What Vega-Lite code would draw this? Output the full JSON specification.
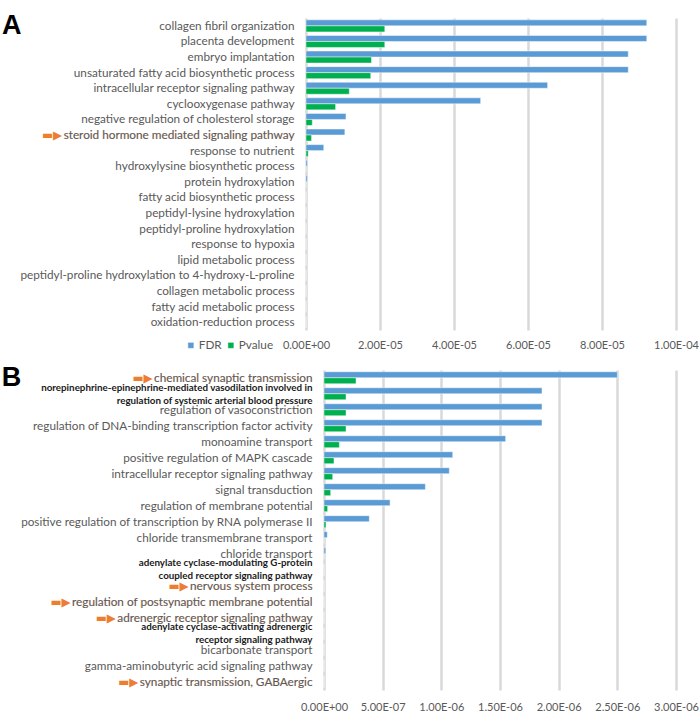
{
  "$schema": "https://vega.github.io/schema/vega-lite/v6.json",
  "padding": {"left": 1, "right": 0, "top": 11, "bottom": 0},
  "columns": 1,
  "align": "none",
  "spacing": 12,
  "config": {
    "font": "Lato",
    "view": {"stroke": null},
    "axis": {"labelFont": "Lato", "labelFontSize": 11.75, "labelColor": "#595959", "domain": false, "ticks": false, "tickSize": 0, "labelLimit": 600},
    "legend": {"symbolType": "square", "labelFont": "Lato", "labelFontSize": 11.75, "labelColor": "#595959", "symbolSize": 36, "symbolStrokeWidth": 0, "labelOffset": 2, "gridAlign": "none", "padding": 0},
    "title": {"font": "Liberation Sans", "fontSize": 27, "fontWeight": "bold", "color": "#000000", "anchor": "start", "frame": "bounds", "offset": 0, "dx": -18, "dy": 25.5},
    "bar": {"stroke": "#FFFFFF", "strokeWidth": 1, "strokeOpacity": 0.45}
  },
  "datasets": {
    "a": [
      {"term": "collagen fibril organization", "series": "FDR", "value": 9.21e-5},
      {"term": "collagen fibril organization", "series": "Pvalue", "value": 2.13e-5},
      {"term": "placenta development", "series": "FDR", "value": 9.21e-5},
      {"term": "placenta development", "series": "Pvalue", "value": 2.13e-5},
      {"term": "embryo implantation", "series": "FDR", "value": 8.71e-5},
      {"term": "embryo implantation", "series": "Pvalue", "value": 1.77e-5},
      {"term": "unsaturated fatty acid biosynthetic process", "series": "FDR", "value": 8.71e-5},
      {"term": "unsaturated fatty acid biosynthetic process", "series": "Pvalue", "value": 1.75e-5},
      {"term": "intracellular receptor signaling pathway", "series": "FDR", "value": 6.53e-5},
      {"term": "intracellular receptor signaling pathway", "series": "Pvalue", "value": 1.17e-5},
      {"term": "cyclooxygenase pathway", "series": "FDR", "value": 4.72e-5},
      {"term": "cyclooxygenase pathway", "series": "Pvalue", "value": 8.0e-6},
      {"term": "negative regulation of cholesterol storage", "series": "FDR", "value": 1.08e-5},
      {"term": "negative regulation of cholesterol storage", "series": "Pvalue", "value": 1.7e-6},
      {"term": "steroid hormone mediated signaling pathway", "series": "FDR", "value": 1.05e-5},
      {"term": "steroid hormone mediated signaling pathway", "series": "Pvalue", "value": 1.5e-6},
      {"term": "response to nutrient", "series": "FDR", "value": 4.8e-6},
      {"term": "response to nutrient", "series": "Pvalue", "value": 6e-7},
      {"term": "hydroxylysine biosynthetic process", "series": "FDR", "value": 4e-7},
      {"term": "hydroxylysine biosynthetic process", "series": "Pvalue", "value": 2e-8},
      {"term": "protein hydroxylation", "series": "FDR", "value": 4e-7},
      {"term": "protein hydroxylation", "series": "Pvalue", "value": 2e-8},
      {"term": "fatty acid biosynthetic process", "series": "FDR", "value": 0},
      {"term": "fatty acid biosynthetic process", "series": "Pvalue", "value": 0},
      {"term": "peptidyl-lysine hydroxylation", "series": "FDR", "value": 0},
      {"term": "peptidyl-lysine hydroxylation", "series": "Pvalue", "value": 0},
      {"term": "peptidyl-proline hydroxylation", "series": "FDR", "value": 0},
      {"term": "peptidyl-proline hydroxylation", "series": "Pvalue", "value": 0},
      {"term": "response to hypoxia", "series": "FDR", "value": 0},
      {"term": "response to hypoxia", "series": "Pvalue", "value": 0},
      {"term": "lipid metabolic process", "series": "FDR", "value": 0},
      {"term": "lipid metabolic process", "series": "Pvalue", "value": 0},
      {"term": "peptidyl-proline hydroxylation to 4-hydroxy-L-proline", "series": "FDR", "value": 0},
      {"term": "peptidyl-proline hydroxylation to 4-hydroxy-L-proline", "series": "Pvalue", "value": 0},
      {"term": "collagen metabolic process", "series": "FDR", "value": 0},
      {"term": "collagen metabolic process", "series": "Pvalue", "value": 0},
      {"term": "fatty acid metabolic process", "series": "FDR", "value": 0},
      {"term": "fatty acid metabolic process", "series": "Pvalue", "value": 0},
      {"term": "oxidation-reduction process", "series": "FDR", "value": 0},
      {"term": "oxidation-reduction process", "series": "Pvalue", "value": 0}
    ],
    "b": [
      {"term": "chemical synaptic transmission", "series": "FDR", "value": 2.5e-6},
      {"term": "chemical synaptic transmission", "series": "Pvalue", "value": 2.73e-7},
      {"term": "norepinephrine-epinephrine-mediated vasodilation involved in|regulation of systemic arterial blood pressure", "series": "FDR", "value": 1.858e-6},
      {"term": "norepinephrine-epinephrine-mediated vasodilation involved in|regulation of systemic arterial blood pressure", "series": "Pvalue", "value": 1.88e-7},
      {"term": "regulation of vasoconstriction", "series": "FDR", "value": 1.858e-6},
      {"term": "regulation of vasoconstriction", "series": "Pvalue", "value": 1.88e-7},
      {"term": "regulation of DNA-binding transcription factor activity", "series": "FDR", "value": 1.858e-6},
      {"term": "regulation of DNA-binding transcription factor activity", "series": "Pvalue", "value": 1.88e-7},
      {"term": "monoamine transport", "series": "FDR", "value": 1.548e-6},
      {"term": "monoamine transport", "series": "Pvalue", "value": 1.31e-7},
      {"term": "positive regulation of MAPK cascade", "series": "FDR", "value": 1.097e-6},
      {"term": "positive regulation of MAPK cascade", "series": "Pvalue", "value": 8.5e-8},
      {"term": "intracellular receptor signaling pathway", "series": "FDR", "value": 1.068e-6},
      {"term": "intracellular receptor signaling pathway", "series": "Pvalue", "value": 7.4e-8},
      {"term": "signal transduction", "series": "FDR", "value": 8.64e-7},
      {"term": "signal transduction", "series": "Pvalue", "value": 5.7e-8},
      {"term": "regulation of membrane potential", "series": "FDR", "value": 5.63e-7},
      {"term": "regulation of membrane potential", "series": "Pvalue", "value": 3.1e-8},
      {"term": "positive regulation of transcription by RNA polymerase II", "series": "FDR", "value": 3.86e-7},
      {"term": "positive regulation of transcription by RNA polymerase II", "series": "Pvalue", "value": 1.7e-8},
      {"term": "chloride transmembrane transport", "series": "FDR", "value": 2.8e-8},
      {"term": "chloride transmembrane transport", "series": "Pvalue", "value": 1e-9},
      {"term": "chloride transport", "series": "FDR", "value": 1.5e-8},
      {"term": "chloride transport", "series": "Pvalue", "value": 5e-10},
      {"term": "adenylate cyclase-modulating G-protein|coupled receptor signaling pathway", "series": "FDR", "value": 0},
      {"term": "adenylate cyclase-modulating G-protein|coupled receptor signaling pathway", "series": "Pvalue", "value": 0},
      {"term": "nervous system process", "series": "FDR", "value": 0},
      {"term": "nervous system process", "series": "Pvalue", "value": 0},
      {"term": "regulation of postsynaptic membrane potential", "series": "FDR", "value": 0},
      {"term": "regulation of postsynaptic membrane potential", "series": "Pvalue", "value": 0},
      {"term": "adrenergic receptor signaling pathway", "series": "FDR", "value": 0},
      {"term": "adrenergic receptor signaling pathway", "series": "Pvalue", "value": 0},
      {"term": "adenylate cyclase-activating adrenergic|receptor signaling pathway", "series": "FDR", "value": 0},
      {"term": "adenylate cyclase-activating adrenergic|receptor signaling pathway", "series": "Pvalue", "value": 0},
      {"term": "bicarbonate transport", "series": "FDR", "value": 0},
      {"term": "bicarbonate transport", "series": "Pvalue", "value": 0},
      {"term": "gamma-aminobutyric acid signaling pathway", "series": "FDR", "value": 0},
      {"term": "gamma-aminobutyric acid signaling pathway", "series": "Pvalue", "value": 0},
      {"term": "synaptic transmission, GABAergic", "series": "FDR", "value": 0},
      {"term": "synaptic transmission, GABAergic", "series": "Pvalue", "value": 0}
    ]
  },
  "concat": [
    {
      "title": {"text": "A"},
      "width": 370,
      "height": 312,
      "data": {"name": "a"},
      "resolve": {"axis": {"y": "independent"}},
      "layer": [
        {
          "mark": {"type": "bar", "opacity": 0},
          "encoding": {
            "y": {"field": "term", "type": "nominal", "sort": null, "scale": {"paddingInner": 0.23, "paddingOuter": 0.12},
              "axis": {"orient": "left", "title": null, "labelPadding": 12, "labelColor": "#ED7D31", "labelFont": "Lato, DejaVu Sans",
                "labelExpr": "indexof(['steroid hormone mediated signaling pathway'], datum.label) >= 0 ? '▬▶\u2009' + datum.label : ''"}}
          }
        },
        {
          "mark": {"type": "bar", "opacity": 0},
          "encoding": {
            "y": {"field": "term", "type": "nominal", "sort": null,
              "axis": {"orient": "left", "title": null, "labelPadding": 12, "labelColor": "#FFFFFF",
                "encoding": {"labels": {"update": {"stroke": {"value": "#FFFFFF"}, "strokeWidth": {"value": 2.5}}}},
                "labelExpr": "indexof(['steroid hormone mediated signaling pathway'], datum.label) >= 0 ? datum.label : ''"}}
          }
        },
        {
          "mark": "bar",
          "encoding": {
            "y": {"field": "term", "type": "nominal", "sort": null,
              "axis": {"orient": "left", "title": null, "labelPadding": 12, "labelExpr": "split(datum.label, '|')"}},
            "yOffset": {"field": "series", "type": "nominal", "sort": ["FDR", "Pvalue"], "scale": {"paddingInner": 0, "paddingOuter": 0}},
            "x": {"field": "value", "type": "quantitative", "scale": {"domain": [0, 0.0001], "nice": false},
              "axis": {"title": null, "values": [0, 0.00002, 0.00004, 0.00006, 0.00008, 0.0001], "grid": true, "gridColor": "#D9D9D9", "gridWidth": 2.5, "labelPadding": 9.5, "labelFontSize": 11, "labelOverlap": false, "labelFlush": false,
                "labelExpr": "replace(replace(format(datum.value, '.2e'), 'e+', 'E+0'), 'e-', 'E-0')"}},
            "color": {"field": "series", "type": "nominal", "scale": {"domain": ["FDR", "Pvalue"], "range": ["#5B9BD5", "#00B050"]},
              "legend": {"orient": "none", "legendX": -121, "legendY": 321.5, "direction": "horizontal", "title": null, "columnPadding": 3}}
          }
        }
      ]
    },
    {
      "title": {"text": "B"},
      "width": 370,
      "height": 320,
      "data": {"name": "b"},
      "resolve": {"axis": {"y": "independent"}},
      "layer": [
        {
          "mark": {"type": "bar", "opacity": 0},
          "encoding": {
            "y": {"field": "term", "type": "nominal", "sort": null, "scale": {"paddingInner": 0.21, "paddingOuter": 0.11},
              "axis": {"orient": "left", "title": null, "labelPadding": -6, "labelColor": "#ED7D31", "labelFont": "Lato, DejaVu Sans",
                "labelExpr": "indexof(['chemical synaptic transmission', 'nervous system process', 'regulation of postsynaptic membrane potential', 'adrenergic receptor signaling pathway', 'synaptic transmission, GABAergic'], datum.label) >= 0 ? '▬▶\u2009' + datum.label : ''"}}
          }
        },
        {
          "mark": {"type": "bar", "opacity": 0},
          "encoding": {
            "y": {"field": "term", "type": "nominal", "sort": null,
              "axis": {"orient": "left", "title": null, "labelPadding": -6, "labelColor": "#FFFFFF",
                "encoding": {"labels": {"update": {"stroke": {"value": "#FFFFFF"}, "strokeWidth": {"value": 2.5}}}},
                "labelExpr": "indexof(['chemical synaptic transmission', 'nervous system process', 'regulation of postsynaptic membrane potential', 'adrenergic receptor signaling pathway', 'synaptic transmission, GABAergic'], datum.label) >= 0 ? datum.label : ''"}}
          }
        },
        {
          "mark": "bar",
          "encoding": {
            "y": {"field": "term", "type": "nominal", "sort": null,
              "axis": {"orient": "left", "title": null, "labelPadding": -6, "labelLineHeight": 13,
                "labelExpr": "split(datum.label, '|')",
                "labelOffset": {"condition": {"test": "indexof(datum.label, '|') >= 0", "value": -6.5}, "value": 0},
                "labelFontSize": {"condition": {"test": "indexof(datum.label, '|') >= 0", "value": 9.8}, "value": 11.75},
                "labelFontWeight": {"condition": {"test": "indexof(datum.label, '|') >= 0", "value": "bold"}, "value": "normal"},
                "labelColor": {"condition": {"test": "indexof(datum.label, '|') >= 0", "value": "#1A1A1A"}, "value": "#595959"}}},
            "yOffset": {"field": "series", "type": "nominal", "sort": ["FDR", "Pvalue"], "scale": {"paddingInner": 0, "paddingOuter": 0}},
            "x": {"field": "value", "type": "quantitative", "scale": {"domain": [0, 0.000003], "nice": false, "range": [18, 370]},
              "axis": {"title": null, "values": [0, 0.0000005, 0.000001, 0.0000015, 0.000002, 0.0000025, 0.000003], "grid": true, "gridColor": "#D9D9D9", "gridWidth": 2.5, "labelPadding": 11, "labelFontSize": 11, "labelOverlap": false, "labelFlush": false,
                "labelExpr": "replace(replace(format(datum.value, '.2e'), 'e+', 'E+0'), 'e-', 'E-0')"}},
            "color": {"field": "series", "type": "nominal", "scale": {"domain": ["FDR", "Pvalue"], "range": ["#5B9BD5", "#70AD47"]},
              "legend": {"orient": "none", "legendX": -98, "legendY": 330, "direction": "horizontal", "title": null, "columnPadding": 8}}
          }
        }
      ]
    }
  ]
}
